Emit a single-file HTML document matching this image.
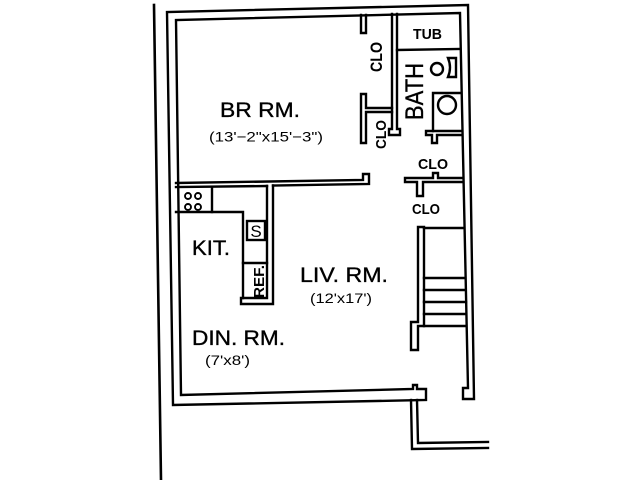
<!DOCTYPE html>
<html>
<head>
<meta charset="utf-8">
<style>
html,body{margin:0;padding:0;background:#fff;}
svg{display:block;}
text{font-family:"Liberation Sans",sans-serif;fill:#000;}
.big{stroke:#000;stroke-width:0.35;}
</style>
</head>
<body>
<svg width="640" height="480" viewBox="0 0 640 480" xmlns="http://www.w3.org/2000/svg">
<rect width="640" height="480" fill="#fff"/>
<g fill="none" stroke="#000" stroke-width="2.4" stroke-linejoin="miter" stroke-linecap="square">
  <!-- long left line -->
  <line x1="154" y1="5" x2="161" y2="480" stroke-width="2.6"/>
  <!-- exterior walls -->
  <path d="M426 389 L426 400 L173 405 L167 12 L468 5 L474 399 L463 399 L463 388 L468 388 L460 13 L176 20 L181 395 L413 389 L413 385 L417 385 L417 389 Z"/>
  <!-- L below -->
  <path d="M411 400 L412 449 L488 448"/>
  <path d="M417 400 L418 443 L488 442"/>
  <!-- BR bottom wall -->
  <path d="M176 183 L363 180 L363 174 L369 174 L369 184 L273 185.5"/>
  <path d="M267 186 L176 187"/>
  <!-- kitchen partition -->
  <path d="M273 185.5 L273 304 L241 304 L241 298 L267 298 L267 186"/>
  <!-- counters -->
  <path d="M212 187 L212 212"/>
  <path d="M176 212 L243 212 L243 298"/>
  <path d="M243 263 L267 263"/>
  <rect x="247" y="221" width="18" height="19"/>
  <!-- cooktop burners -->
  <circle cx="188" cy="196" r="3" stroke-width="1.9"/>
  <circle cx="198" cy="196" r="3" stroke-width="1.9"/>
  <circle cx="188" cy="207" r="3" stroke-width="1.9"/>
  <circle cx="198" cy="207" r="3" stroke-width="1.9"/>
  <!-- top stub -->
  <path d="M361 15 L361 33 L366 33 L366 15"/>
  <!-- bath wall -->
  <path d="M392 14 L392 129 L389 129 L389 135 L400 135 L400 129 L397 129 L397 14"/>
  <!-- closet front -->
  <path d="M392 108 L366 108 L366 94 L361 94 L361 143 L366 143 L366 112 L392 112"/>
  <!-- tub line -->
  <path d="M397 50 L460 49"/>
  <!-- toilet -->
  <circle cx="437" cy="69" r="6"/>
  <path d="M448 58 L456 58 L456 77 L448 77 Q452 67.5 448 58 Z"/>
  <!-- lavatory -->
  <path d="M461 93 L433 93 L433 131"/>
  <circle cx="447" cy="105" r="9"/>
  <!-- bath bottom wall -->
  <path d="M461 131 L426 131 L426 135 L432 135 L432 143 L437 143 L437 135 L462 135"/>
  <!-- closet wall -->
  <path d="M405 178 L433 178 L433 173 L438 173 L438 178 L463 178 M463 182 L423 182 L423 196 L417 196 L417 182 L405 182 L405 178"/>
  <!-- stair wall -->
  <path d="M424 227 L418 227 L418 322 L411 322 L411 350 L418 350 L418 326 L424 326 Z"/>
  <path d="M424 228 L464 228"/>
  <path d="M424 278 L465 278"/>
  <path d="M424 290 L465 290"/>
  <path d="M424 302 L466 302"/>
  <path d="M424 314 L466 314"/>
  <path d="M424 326 L466 326"/>
</g>
<!-- labels -->
<text class="big" x="220" y="117" font-size="21" textLength="80" lengthAdjust="spacingAndGlyphs">BR RM.</text>
<text x="209" y="141.5" font-size="14" textLength="114" lengthAdjust="spacingAndGlyphs">(13'−2"x15'−3")</text>
<text class="big" x="192" y="255" font-size="21" textLength="38" lengthAdjust="spacingAndGlyphs">KIT.</text>
<text class="big" x="300" y="282" font-size="21" textLength="88" lengthAdjust="spacingAndGlyphs">LIV. RM.</text>
<text x="310" y="303" font-size="14" textLength="62" lengthAdjust="spacingAndGlyphs">(12'x17')</text>
<text class="big" x="192" y="345" font-size="21" textLength="93" lengthAdjust="spacingAndGlyphs">DIN. RM.</text>
<text x="205" y="365" font-size="14" textLength="45" lengthAdjust="spacingAndGlyphs">(7'x8')</text>
<text x="413" y="39" font-size="15" font-weight="bold" textLength="29" lengthAdjust="spacingAndGlyphs">TUB</text>
<text x="418" y="169" font-size="15" font-weight="bold" textLength="30" lengthAdjust="spacingAndGlyphs">CLO</text>
<text x="412" y="214" font-size="15" font-weight="bold" textLength="28" lengthAdjust="spacingAndGlyphs">CLO</text>
<text x="256" y="237" font-size="17" text-anchor="middle">S</text>
<text transform="translate(382,57) rotate(-90)" font-size="17" font-weight="bold" text-anchor="middle" textLength="30" lengthAdjust="spacingAndGlyphs">CLO</text>
<text transform="translate(386,134.5) rotate(-90)" font-size="15" font-weight="bold" text-anchor="middle" textLength="29" lengthAdjust="spacingAndGlyphs">CLO</text>
<text class="big" transform="translate(423,91.5) rotate(-90)" font-size="25" text-anchor="middle" textLength="57" lengthAdjust="spacingAndGlyphs">BATH</text>
<text transform="translate(264,281.5) rotate(-90)" font-size="15" font-weight="bold" text-anchor="middle" textLength="33" lengthAdjust="spacingAndGlyphs">REF.</text>
</svg>
</body>
</html>
